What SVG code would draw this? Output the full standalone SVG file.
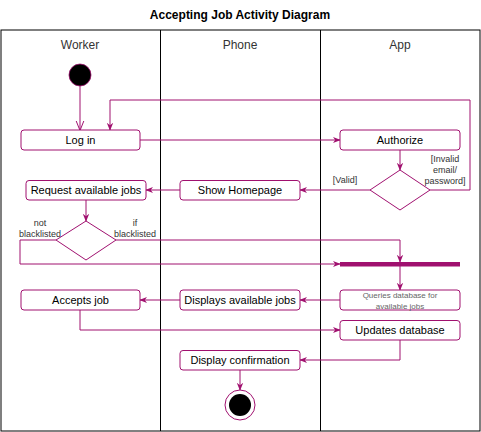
<svg xmlns="http://www.w3.org/2000/svg" width="481" height="432" viewBox="0 0 481 432">
<style>
.lane{fill:none;stroke:#000;stroke-width:1}
.node rect{fill:#fff;stroke:#A0106F;stroke-width:1}
.dia{fill:#fff;stroke:#A0106F;stroke-width:1}
.t{font-family:"Liberation Sans",Arial,sans-serif;font-size:11px;fill:#000;text-anchor:middle}
.hd{font-family:"Liberation Sans",Arial,sans-serif;font-size:12px;fill:#333;text-anchor:middle}
.lbl{font-family:"Liberation Sans",Arial,sans-serif;font-size:9px;fill:#333;text-anchor:middle}
.sm{font-family:"Liberation Sans",Arial,sans-serif;font-size:8px;fill:#666;text-anchor:middle}
.c{fill:none;stroke:#A0106F;stroke-width:1}
</style>
<defs>
<marker id="a" viewBox="0 0 10 10" refX="9" refY="5" markerWidth="8" markerHeight="8" orient="auto" markerUnits="userSpaceOnUse">
<path d="M0,1 L10,5 L0,9 L3,5 Z" fill="#A0106F"/>
</marker>
<marker id="o" viewBox="0 0 10 10" refX="9.5" refY="5" markerWidth="10" markerHeight="10" orient="auto" markerUnits="userSpaceOnUse">
<path d="M0,1 L10,5 L0,9" fill="none" stroke="#A0106F" stroke-width="1"/>
</marker>
</defs>
<rect width="481" height="432" fill="#fff"/>
<text x="240" y="19" font-family="Liberation Sans,Arial,sans-serif" font-size="12" font-weight="bold" text-anchor="middle" fill="#000">Accepting Job Activity Diagram</text>
<g id="lanes">
<rect class="lane" x="1" y="30" width="479" height="401"/>
<line class="lane" x1="160.5" y1="30" x2="160.5" y2="431"/>
<line class="lane" x1="320.5" y1="30" x2="320.5" y2="431"/>
<text class="hd" x="80" y="49">Worker</text>
<text class="hd" x="240" y="49">Phone</text>
<text class="hd" x="400" y="49">App</text>
</g>
<g id="connectors">
<line class="c" x1="80" y1="86" x2="80" y2="130" marker-end="url(#o)"/>
<polyline class="c" points="430,190 470,190 470,100 110,100 110,130" marker-end="url(#a)"/>
<line class="c" x1="140" y1="140" x2="340" y2="140" marker-end="url(#a)"/>
<line class="c" x1="400" y1="150" x2="400" y2="170" marker-end="url(#a)"/>
<line class="c" x1="370" y1="190" x2="300" y2="190" marker-end="url(#a)"/>
<line class="c" x1="180" y1="190" x2="146" y2="190" marker-end="url(#a)"/>
<line class="c" x1="86" y1="200" x2="86" y2="221" marker-end="url(#a)"/>
<polyline class="c" points="116,240 400,240 400,262" marker-end="url(#a)"/>
<polyline class="c" points="56,240 20,240 20,264 340,264" marker-end="url(#a)"/>
<line class="c" x1="400" y1="266" x2="400" y2="290" marker-end="url(#a)"/>
<line class="c" x1="340" y1="300" x2="300" y2="300" marker-end="url(#a)"/>
<line class="c" x1="180" y1="300" x2="140" y2="300" marker-end="url(#a)"/>
<polyline class="c" points="80,310 80,330 340,330" marker-end="url(#a)"/>
<polyline class="c" points="400,340 400,360 300,360" marker-end="url(#a)"/>
<line class="c" x1="240" y1="370" x2="240" y2="390" marker-end="url(#a)"/>
<text class="lbl" x="345" y="183">[Valid]</text>
<text class="lbl" x="445" y="162">[Invalid</text>
<text class="lbl" x="445" y="173">email/</text>
<text class="lbl" x="445" y="184">password]</text>
<text class="lbl" x="40" y="226">not</text>
<text class="lbl" x="40" y="237">blacklisted</text>
<text class="lbl" x="135" y="226">if</text>
<text class="lbl" x="135" y="237">blacklisted</text>
</g>
<g id="start"><circle cx="80" cy="75" r="11" fill="#000" stroke="#A0106F" stroke-width="0.8"/></g>
<g id="login" class="node"><rect x="21" y="130" width="119" height="20" rx="3"/><text class="t" x="80.5" y="144">Log in</text></g>
<g id="authorize" class="node"><rect x="340" y="130" width="120" height="20" rx="3"/><text class="t" x="400" y="144">Authorize</text></g>
<g id="authdecision"><polygon class="dia" points="400,170 430,190 400,210 370,190"/></g>
<g id="homepage" class="node"><rect x="180" y="180.5" width="120" height="19.5" rx="3"/><text class="t" x="240" y="194">Show Homepage</text></g>
<g id="request" class="node"><rect x="26" y="180.5" width="120" height="19.5" rx="3"/><text class="t" x="86" y="194">Request available jobs</text></g>
<g id="blacklist"><polygon class="dia" points="86,221 116,240 86,260 56,240"/></g>
<g id="join"><rect x="340" y="262" width="120" height="4.5" fill="#A0106F"/></g>
<g id="queries" class="node"><rect x="340" y="290" width="120" height="20" rx="3"/><text class="sm" x="400" y="298">Queries database for</text><text class="sm" x="400" y="309">available jobs</text></g>
<g id="displays" class="node"><rect x="180" y="290" width="120" height="20" rx="3"/><text class="t" x="240" y="304">Displays available jobs</text></g>
<g id="accepts" class="node"><rect x="21" y="290" width="119" height="20" rx="3"/><text class="t" x="80.5" y="304">Accepts job</text></g>
<g id="updates" class="node"><rect x="340" y="320.5" width="120" height="19.5" rx="3"/><text class="t" x="400" y="334">Updates database</text></g>
<g id="confirm" class="node"><rect x="180" y="350.5" width="120" height="19.5" rx="3"/><text class="t" x="240" y="364">Display confirmation</text></g>
<g id="end"><circle cx="240" cy="405" r="15" fill="#fff" stroke="#A0106F" stroke-width="1"/><circle cx="240" cy="405" r="11" fill="#000"/></g>
</svg>
